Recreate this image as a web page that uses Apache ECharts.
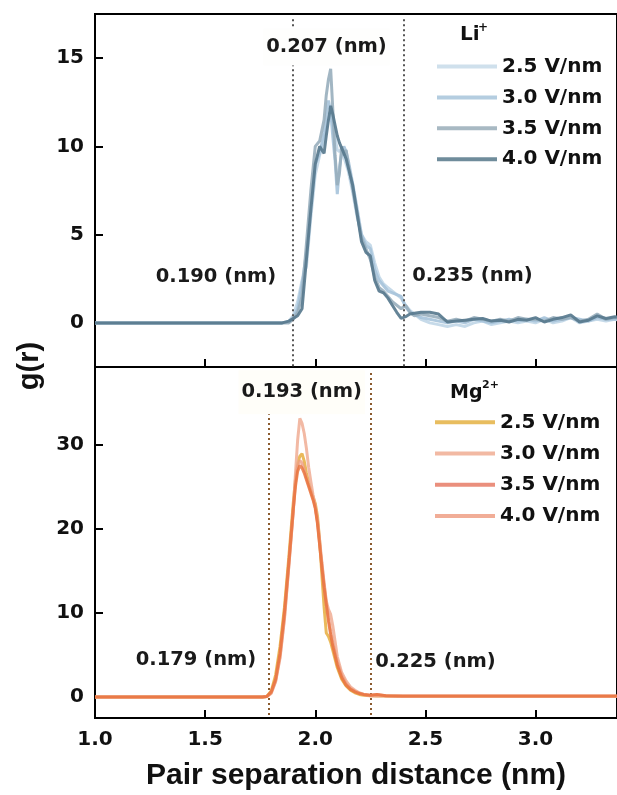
<!DOCTYPE html>
<html>
<head>
<meta charset="utf-8">
<script src="https://cdn.jsdelivr.net/npm/echarts@6/dist/echarts.min.js"></script>
<style>
html,body{margin:0;padding:0;background:#fff;}
#chart{width:617px;height:795px;}
</style>
</head>
<body>
<div id="chart"></div>
<script>
// ---------- data ----------
const xTicks = [1.0, 1.5, 2.0, 2.5, 3.0];
const liTicks = [0, 5, 10, 15];
const mgTicks = [0, 10, 20, 30];
const seriesLabels = ['2.5 V/nm', '3.0 V/nm', '3.5 V/nm', '4.0 V/nm'];

const liX = [1.00, 1.50, 1.85, 1.88, 1.90, 1.92, 1.94, 1.96, 1.98, 2.00,
  2.02, 2.04, 2.05, 2.06, 2.07, 2.08, 2.09, 2.10, 2.11, 2.12,
  2.13, 2.14, 2.15, 2.17, 2.19, 2.21, 2.23, 2.25, 2.27, 2.29,
  2.31, 2.33, 2.35, 2.37, 2.39, 2.41, 2.43, 2.45, 2.48, 2.52,
  2.56, 2.60, 2.64, 2.68, 2.72, 2.76, 2.80, 2.84, 2.88, 2.92,
  2.96, 3.00, 3.04, 3.08, 3.12, 3.16, 3.20, 3.24, 3.28, 3.32,
  3.36, 3.40];
const li25 = [0, 0, 0, 0.1, 0.4, 1.2, 2.4, 3.2, 6.0, 8.4,
  9.5, 10.4, 11.0, 11.6, 12.0, 11.2, 10.5, 9.8, 9.7, 9.9,
  9.4, 9.0, 8.6, 7.4, 6.0, 5.0, 4.6, 4.4, 3.4, 2.6,
  2.2, 2.0, 1.8, 1.6, 1.4, 1.0, 0.7, 0.5, 0.2, 0.0,
  -0.1, -0.2, -0.1, -0.2, 0.0, 0.1, -0.1, 0.0, 0.1, 0.0,
  0.1, 0.0, 0.2, 0.0, 0.1, 0.3, 0.0, 0.1, 0.2, 0.1,
  0.2, 0.1];
const li30 = [0, 0, 0, 0.05, 0.3, 0.8, 2.2, 4.0, 6.8, 9.0,
  9.6, 10.8, 11.8, 12.6, 12.0, 10.5, 9.2, 7.3, 8.8, 9.6,
  10.0, 9.7, 9.2, 7.9, 6.5, 5.0, 4.4, 4.2, 3.0, 2.4,
  2.1, 1.8, 1.7, 1.6, 1.5, 0.9, 0.6, 0.5, 0.3, 0.2,
  0.1, 0.0, 0.1, 0.0, 0.2, 0.1, 0.0, 0.1, 0.2, 0.1,
  0.2, 0.1, 0.3, 0.1, 0.2, 0.3, 0.2, 0.1, 0.3, 0.2,
  0.2, 0.3];
const li35 = [0, 0, 0, 0, 0.2, 0.6, 1.5, 4.5, 7.5, 10.0,
  10.3, 11.5, 12.9, 13.8, 14.4, 12.0, 9.5, 7.8, 8.5, 10.0,
  9.5, 9.8, 9.0, 7.6, 6.2, 4.8, 4.2, 3.6, 2.6, 2.0,
  1.8, 1.5, 1.2, 1.0, 0.8, 1.0, 0.6, 0.4, 0.5, 0.4,
  0.3, 0.1, 0.2, 0.1, 0.3, 0.2, 0.1, 0.2, 0.1, 0.3,
  0.2, 0.2, 0.1, 0.3, 0.2, 0.3, 0.1, 0.2, 0.5, 0.2,
  0.3, 0.2];
const li40 = [0, 0, 0, 0.1, 0.25, 0.4, 0.8, 3.6, 6.4, 9.0,
  10.0, 9.6, 10.6, 11.5, 12.3, 11.8, 11.2, 10.6, 10.2, 9.9,
  9.6, 9.3, 8.8, 7.8, 6.2, 4.6, 4.0, 3.8, 2.4, 1.8,
  1.7, 1.4, 1.0, 0.6, 0.25, 0.35, 0.5, 0.55, 0.6, 0.6,
  0.5, 0.05, 0.1, 0.15, 0.2, 0.25, 0.1, 0.15, 0.05, 0.2,
  0.15, 0.3, 0.05, 0.2, 0.3, 0.45, 0.05, 0.15, 0.4, 0.25,
  0.35, 0.3];

const mgX = [1.00, 1.50, 1.76, 1.78, 1.80, 1.82, 1.84, 1.86, 1.88, 1.90,
  1.91, 1.92, 1.93, 1.94, 1.95, 1.96, 1.97, 1.98, 1.99, 2.00,
  2.01, 2.02, 2.03, 2.04, 2.05, 2.06, 2.07, 2.08, 2.10, 2.12,
  2.14, 2.16, 2.18, 2.20, 2.22, 2.25, 2.28, 2.32, 2.40, 2.60,
  2.80, 3.00, 3.20, 3.40];
const mg25 = [0, 0, 0, 0.05, 0.7, 2.6, 6.0, 10.6, 16.6, 23.0,
  25.8, 27.8, 28.6, 28.9, 28.0, 26.6, 25.5, 24.6, 23.8, 23.0,
  21.5, 18.5, 14.5, 10.7, 7.6, 7.2, 6.5, 5.5, 3.5, 2.1,
  1.3, 0.8, 0.5, 0.3, 0.2, 0.15, 0.1, 0.1, 0.05, 0.05,
  0.05, 0.05, 0.05, 0.05];
const mg30 = [0, 0, 0, 0.05, 0.4, 1.8, 4.6, 9.2, 15.5, 22.0,
  26.5, 30.5, 33.1, 32.5, 31.3, 29.5, 27.3, 25.6, 24.0, 22.6,
  21.0, 18.6, 16.0, 13.6, 11.4, 10.4, 9.8, 8.4, 4.8, 2.9,
  1.9, 1.2, 0.8, 0.5, 0.3, 0.15, 0.1, 0.1, 0.05, 0.05,
  0.05, 0.05, 0.05, 0.05];
const mg35 = [0, 0, 0, 0.05, 0.6, 2.1, 5.2, 10.0, 16.0, 22.3,
  25.0, 26.8, 27.5, 27.2, 26.6, 25.8, 25.0, 24.2, 23.4, 22.4,
  20.6, 18.0, 15.4, 13.0, 11.0, 9.0, 7.4, 6.0, 3.8, 2.3,
  1.4, 0.9, 0.6, 0.4, 0.3, 0.2, 0.3, 0.15, 0.1, 0.1,
  0.1, 0.1, 0.1, 0.1];
const mg40 = [0, 0, 0, 0.05, 0.5, 1.9, 4.8, 9.4, 15.6, 22.0,
  25.4, 27.4, 28.1, 27.8, 27.0, 26.0, 25.2, 24.4, 23.6, 22.6,
  20.8, 18.2, 15.8, 13.4, 11.2, 9.4, 7.8, 6.4, 4.2, 2.6,
  1.6, 1.0, 0.7, 0.45, 0.3, 0.2, 0.3, 0.15, 0.1, 0.1,
  0.1, 0.1, 0.1, 0.1];

const liBounds = [1.90, 2.40];
const mgBounds = [1.79, 2.25];

// ---------- style ----------
const liColors = ['#c3d8e8', '#a6c3da', '#98aebd', '#587a8e'];
const liOpacity = [0.95, 0.9, 0.9, 0.92];
const liLegendColors = ['#cfe0ec', '#b4cde0', '#a8b9c3', '#6f8c9b'];
const mgColors = ['#e6ad3e', '#f0ad94', '#e8703a', '#ee9c82'];
const mgOpacity = [0.85, 0.85, 0.8, 0.8];
const mgLegendColors = ['#e8bd5f', '#f2b9a3', '#ea8f7d', '#f1ad97'];

const tickFont = '"DejaVu Sans"';
const axisLineStyle = { color: '#000', width: 2 };

const chart = echarts.init(document.getElementById('chart'), null, { renderer: 'canvas' });

function mk(xs, ys) { return xs.map((x, i) => [x, ys[i]]); }

const liData = [li25, li30, li35, li40];
const mgData = [mg25, mg30, mg35, mg40];

const series = [];
liData.forEach((d, i) => {
  series.push({
    name: 'Li ' + seriesLabels[i], type: 'line', xAxisIndex: 0, yAxisIndex: 0,
    data: mk(liX, d), symbol: 'none', smooth: false,
    lineStyle: { color: liColors[i], width: 3, opacity: liOpacity[i] },
    itemStyle: { color: liLegendColors[i] },
    z: 2 + i
  });
});
mgData.forEach((d, i) => {
  series.push({
    name: 'Mg ' + seriesLabels[i], type: 'line', xAxisIndex: 1, yAxisIndex: 1,
    data: mk(mgX, d), symbol: 'none', smooth: false,
    lineStyle: { color: mgColors[i], width: 3, opacity: mgOpacity[i] },
    itemStyle: { color: mgLegendColors[i] },
    z: i === 2 ? 9 : 2 + i
  });
});
// dotted boundary lines
series.push({
  type: 'line', xAxisIndex: 0, yAxisIndex: 0, data: [], silent: true,
  markLine: {
    silent: true, symbol: 'none', label: { show: false }, animation: false,
    lineStyle: { type: [2, 3], color: '#555', width: 2 },
    data: liBounds.map(v => [{ coord: [v, 17.2] }, { coord: [v, -2.5] }])
  }, z: 1
});
series.push({
  type: 'line', xAxisIndex: 1, yAxisIndex: 1, data: [], silent: true,
  markLine: {
    silent: true, symbol: 'none', label: { show: false }, animation: false,
    lineStyle: { type: [2, 3], color: '#8a5a2e', width: 2 },
    data: mgBounds.map(v => [{ coord: [v, 38.5] }, { coord: [v, -2.5] }])
  }, z: 1
});

function xAxisCfg(gridIndex, showLabels) {
  return {
    type: 'value', gridIndex, min: 1.0, max: 3.37,
    axisLine: { show: true, lineStyle: axisLineStyle, onZero: false },
    axisTick: { show: true, inside: true, length: 8, customValues: xTicks, lineStyle: axisLineStyle },
    axisLabel: {
      show: showLabels, customValues: xTicks, margin: 12,
      formatter: v => v.toFixed(1),
      fontFamily: tickFont, fontWeight: 'bold', fontSize: 20, color: '#111'
    },
    splitLine: { show: false },
    name: showLabels ? 'Pair separation distance (nm)' : '',
    nameLocation: 'middle', nameGap: 43,
    nameTextStyle: { fontFamily: '"Liberation Sans"', fontWeight: 'bold', fontSize: 30, color: '#111' }
  };
}
function yAxisCfg(gridIndex, min, max, ticks) {
  return {
    type: 'value', gridIndex, min, max,
    axisLine: { show: true, lineStyle: axisLineStyle, onZero: false },
    axisTick: { show: true, inside: true, length: 8, customValues: ticks, lineStyle: axisLineStyle },
    axisLabel: {
      customValues: ticks, margin: 11,
      fontFamily: tickFont, fontWeight: 'bold', fontSize: 20, color: '#111'
    },
    splitLine: { show: false }
  };
}

const legendText = { fontFamily: tickFont, fontWeight: 'bold', fontSize: 20, color: '#111' };
function legendCfg(prefix, colors, left, top, gap) {
  return {
    orient: 'vertical', left, top, padding: 0, itemGap: gap,
    itemWidth: 60, itemHeight: 4, icon: 'rect', selectedMode: false,
    data: seriesLabels.map((s, i) => ({ name: prefix + s, icon: 'rect', itemStyle: { color: colors[i] } })),
    formatter: n => n.replace(/^\S+ /, ''),
    textStyle: legendText
  };
}

const annFont = 'bold 19.5px "DejaVu Sans"';
function ann(text, x, y, extra) {
  return Object.assign({
    type: 'text', x, y, z: 100,
    style: Object.assign({ text, font: annFont, fill: '#1a1a1a', align: 'center', verticalAlign: 'middle' }, extra || {})
  });
}

chart.setOption({
  animation: false,
  backgroundColor: '#fff',
  grid: [
    { left: 95, top: 14, width: 523, height: 353, show: true, borderColor: '#000', borderWidth: 2, backgroundColor: 'transparent' },
    { left: 95, top: 367, width: 523, height: 351, show: true, borderColor: '#000', borderWidth: 2, backgroundColor: 'transparent' }
  ],
  xAxis: [xAxisCfg(0, false), xAxisCfg(1, true)],
  yAxis: [yAxisCfg(0, -2.5, 17.5, liTicks), yAxisCfg(1, -2.5, 39.2, mgTicks)],
  legend: [
    legendCfg('Li ', liLegendColors, 437, 56.5, 10.9),
    legendCfg('Mg ', mgLegendColors, 435, 412.3, 11.2)
  ],
  series,
  graphic: [
    ann('0.207 (nm)', 326.5, 47, { backgroundColor: '#fefefd', padding: [5, 3, 12, 3] }),
    ann('0.190 (nm)', 216, 276.7),
    ann('0.235 (nm)', 472.5, 275.7),
    ann('0.193 (nm)', 301.7, 392.3, { backgroundColor: '#fffef9', padding: [10, 3, 14, 3] }),
    ann('0.179 (nm)', 196, 660),
    ann('0.225 (nm)', 435.5, 661.7),
    { type: 'text', x: 460, y: 35, z: 100, style: { text: 'Li', font: 'bold 20px "DejaVu Sans"', fill: '#111', align: 'left', verticalAlign: 'middle' } },
    { type: 'text', x: 478, y: 28, z: 100, style: { text: '+', font: 'bold 12px "DejaVu Sans"', fill: '#111', align: 'left', verticalAlign: 'middle' } },
    { type: 'text', x: 450, y: 393, z: 100, style: { text: 'Mg', font: 'bold 19px "DejaVu Sans"', fill: '#111', align: 'left', verticalAlign: 'middle' } },
    { type: 'text', x: 482, y: 385, z: 100, style: { text: '2+', font: 'bold 11px "DejaVu Sans"', fill: '#111', align: 'left', verticalAlign: 'middle' } },
    { type: 'text', x: 30, y: 366, z: 100, rotation: Math.PI / 2, style: { text: 'g(r)', font: 'bold 29px "Liberation Sans"', fill: '#111', align: 'center', verticalAlign: 'middle' } }
  ]
});
</script>
</body>
</html>
